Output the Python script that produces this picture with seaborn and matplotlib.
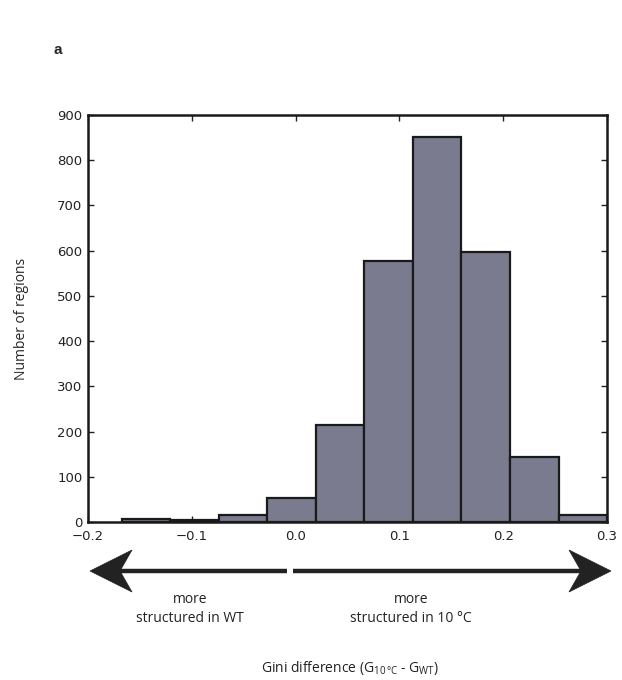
import numpy as np
import matplotlib
matplotlib.use("Agg")
import matplotlib.pyplot as plt
from matplotlib.patches import Polygon
from matplotlib.lines import Line2D
import seaborn as sns

# data
bin_edges = [-0.1675, -0.1207, -0.0740, -0.0272, 0.0195, 0.0663,
             0.1130, 0.1598, 0.2065, 0.2533, 0.3000]
counts = [6, 4, 15, 52, 215, 578, 852, 596, 143, 15]
x_ticks = [-0.2, -0.1, 0.0, 0.1, 0.2, 0.3]
y_ticks = [0, 100, 200, 300, 400, 500, 600, 700, 800, 900]

centers = [(bin_edges[i] + bin_edges[i + 1]) / 2 for i in range(len(counts))]

sns.set_style("white")
plt.rcParams['font.family'] = ['DejaVu Sans']

W, H = 622, 680
fig = plt.figure(figsize=(6.22, 6.8), dpi=100)
ax = fig.add_axes([88 / W, 1 - 522 / H, 519 / W, 407 / H])

sns.histplot(x=centers, weights=counts, bins=bin_edges, ax=ax,
             color="#7b7b8f", alpha=1.0, edgecolor="#1a1a1a", linewidth=1.6)

ax.set_xlim(-0.2, 0.3)
ax.set_ylim(0, 900)
ax.set_xticks(x_ticks)
ax.set_xticklabels(["\u22120.2", "\u22120.1", "0.0", "0.1", "0.2", "0.3"])
ax.set_yticks(y_ticks)
ax.tick_params(direction="in", length=4, width=1, labelsize=9.5,
               top=True, right=True, bottom=True, left=True,
               colors="#222222")
ax.tick_params(axis="x", pad=5.5)
ax.tick_params(axis="y", pad=4)
for s in ax.spines.values():
    s.set_visible(True)
    s.set_linewidth(1.8)
    s.set_color("#1a1a1a")
ax.set_xlabel("")
ax.set_ylabel("Number of regions", fontsize=10, family="Open Sans", labelpad=20)

# panel letter
fig.text(58 / W, 1 - 50 / H, "a", fontsize=11, fontweight="bold",
         family="Liberation Sans", ha="center", va="center")


def P(x, y):
    return (x / W, 1 - y / H)


arrow_col = "#222222"
ya = 571
# shafts
fig.add_artist(Line2D([P(118, ya)[0], P(287, ya)[0]], [P(0, ya)[1]] * 2,
                      transform=fig.transFigure, color=arrow_col, lw=3.2,
                      solid_capstyle="butt"))
fig.add_artist(Line2D([P(293, ya)[0], P(582, ya)[0]], [P(0, ya)[1]] * 2,
                      transform=fig.transFigure, color=arrow_col, lw=3.2,
                      solid_capstyle="butt"))
# concave arrow heads
fig.add_artist(Polygon([P(90, ya), P(132, 550), P(120, ya), P(132, 592)],
                       closed=True, transform=fig.transFigure,
                       facecolor=arrow_col, edgecolor=arrow_col, lw=0.5))
fig.add_artist(Polygon([P(611, ya), P(569, 550), P(581, ya), P(569, 592)],
                       closed=True, transform=fig.transFigure,
                       facecolor=arrow_col, edgecolor=arrow_col, lw=0.5))

fig.text(190 / W, 1 - 609 / H, "more\nstructured in WT", fontsize=10,
         family="Open Sans", ha="center", va="center", linespacing=1.3,
         color="#222222")
fig.text(411 / W, 1 - 609 / H, "more\nstructured in 10 \u00b0C", fontsize=10,
         family="Open Sans", ha="center", va="center", linespacing=1.3,
         color="#222222")

fig.text(350 / W, 1 - 668 / H,
         "Gini difference (G$_{\\mathregular{10\\,\u00b0C}}$ - G$_{\\mathregular{WT}}$)",
         fontsize=10, family="Open Sans", ha="center", va="center",
         color="#222222")

fig.savefig("out.png", dpi=100, facecolor="white")
